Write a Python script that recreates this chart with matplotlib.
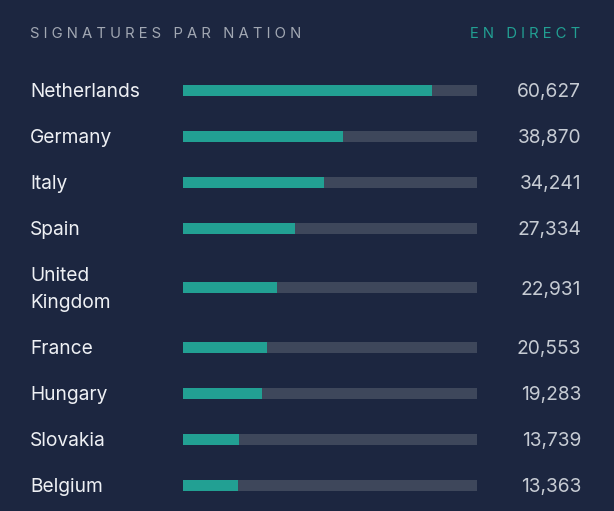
import matplotlib.pyplot as plt
from matplotlib.transforms import blended_transform_factory

# data
countries = ["Netherlands", "Germany", "Italy", "Spain", "United\nKingdom",
             "France", "Hungary", "Slovakia", "Belgium"]
signatures = [60627, 38870, 34241, 27334, 22931, 20553, 19283, 13739, 13363]
scale_max = 71600

BG = "#1c2640"
TEAL = "#22a093"
TRACK = "#3e475b"
NAME_C = "#eef0f4"
VAL_C = "#c6cbd3"
TITLE_C = "#a2a8b3"

W, H = 614, 511
plt.rcParams['font.family'] = ['Inter', 'DejaVu Sans']

fig = plt.figure(figsize=(W / 100, H / 100), dpi=100, facecolor=BG)
ax = fig.add_axes([183 / W, 0, 294 / W, 1])
ax.set_facecolor(BG)
ax.set_xlim(0, scale_max)
ax.set_ylim(H, 0)
ax.axis('off')

# row layout (pixels): 46 per single line row, 27 extra per extra line
ys = []
y = 90.5
prev_extra = 0
for i, c in enumerate(countries):
    extra = 27 * (c.count("\n"))
    if i > 0:
        y += 46 + prev_extra / 2 + extra / 2
    ys.append(y)
    prev_extra = extra

ax.barh(ys, [scale_max] * len(ys), height=11, color=TRACK, left=0)
ax.barh(ys, signatures, height=11, color=TEAL, left=0)

tr = blended_transform_factory(fig.transFigure, ax.transData)
for c, v, yy in zip(countries, signatures, ys):
    ax.text(30 / W, yy + 1.5, c, transform=tr, ha='left', va='center',
            color=NAME_C, fontsize=13.8, linespacing=1.62)
    ax.text(581 / W, yy + 1.5, f"{v:,}", transform=tr, ha='right', va='center',
            color=VAL_C, fontsize=13.8)

hs = "\u200a\u200a\u200a"
fig.text(30 / W, 1 - 34.5 / H, hs.join("SIGNATURES PAR NATION"), ha='left',
         va='center', color=TITLE_C, fontsize=10.7)
fig.text(580 / W, 1 - 34.5 / H, hs.join("EN DIRECT"), ha='right',
         va='center', color=TEAL, fontsize=10.7)

fig.savefig("out.png", dpi=100, facecolor=BG)
